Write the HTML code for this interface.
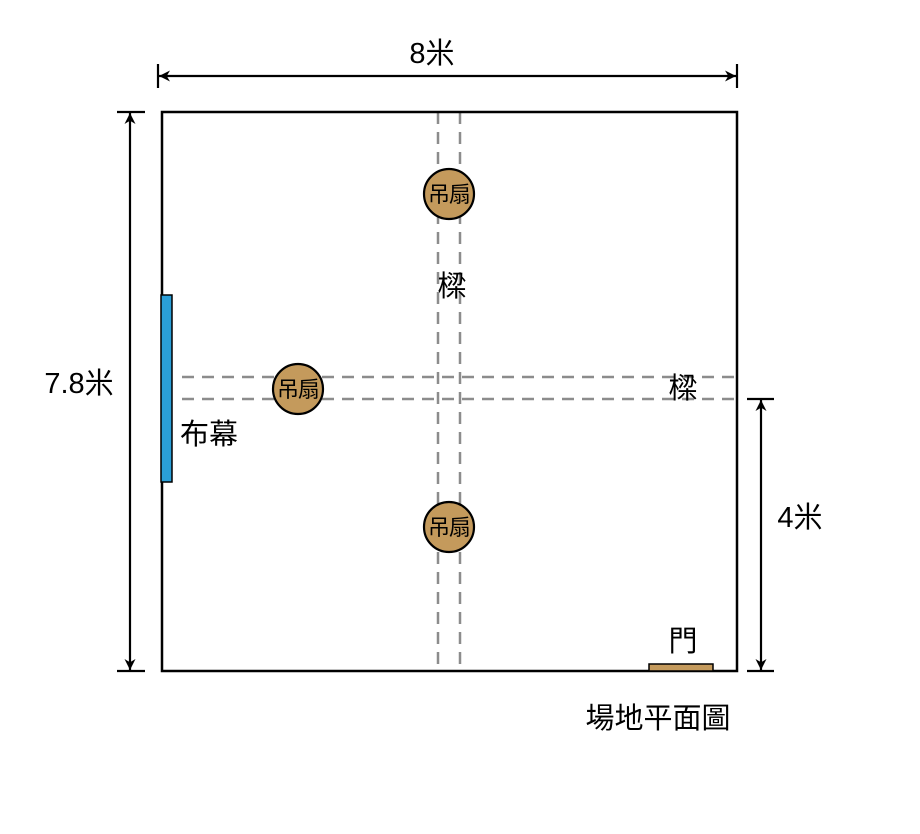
<!DOCTYPE html>
<html><head><meta charset="utf-8"><style>
html,body{margin:0;padding:0;background:#fff;}
text{font-family:"Liberation Sans","Noto Sans CJK TC",sans-serif;fill:#000;}
</style></head><body>
<svg width="920" height="829" viewBox="0 0 920 829" xmlns="http://www.w3.org/2000/svg">
<defs>
<marker id="a" viewBox="0 0 10 10" refX="10" refY="5" markerWidth="11" markerHeight="11" markerUnits="userSpaceOnUse" orient="auto-start-reverse">
<path d="M0,0 L10,5 L0,10 L3,5 z" fill="#000"/>
</marker>
</defs>
<g stroke="#8c8c8c" stroke-width="2.5" stroke-dasharray="12,8" fill="none">
<line x1="438" y1="112" x2="438" y2="671"/>
<line x1="460" y1="112" x2="460" y2="671"/>
<line x1="182" y1="377" x2="737" y2="377"/>
<line x1="182" y1="399" x2="737" y2="399"/>
</g>
<rect x="162" y="112" width="575" height="559" fill="none" stroke="#000" stroke-width="2.5"/>
<rect x="161" y="295" width="11" height="187" fill="#2a9fd8" stroke="#000" stroke-width="1.5"/>
<rect x="649" y="664" width="64" height="7" fill="#c49a5c" stroke="#000" stroke-width="1.5"/>
<g fill="#c49a5c" stroke="#000" stroke-width="2.2">
<circle cx="449" cy="194" r="25"/>
<circle cx="298" cy="389" r="25"/>
<circle cx="449" cy="527" r="25"/>
</g>
<g font-size="22" text-anchor="middle" letter-spacing="-1">
<text x="449" y="202">吊扇</text>
<text x="298" y="397">吊扇</text>
<text x="449" y="535">吊扇</text>
</g>
<g stroke="#000" stroke-width="2.2">
<line x1="158" y1="64" x2="158" y2="88"/>
<line x1="737" y1="64" x2="737" y2="88"/>
<line x1="159" y1="76" x2="736" y2="76" marker-start="url(#a)" marker-end="url(#a)"/>
<line x1="117" y1="112" x2="145" y2="112"/>
<line x1="117" y1="671" x2="145" y2="671"/>
<line x1="130" y1="113" x2="130" y2="670" marker-start="url(#a)" marker-end="url(#a)"/>
<line x1="747" y1="399" x2="774" y2="399"/>
<line x1="747" y1="671" x2="774" y2="671"/>
<line x1="761" y1="400" x2="761" y2="670" marker-start="url(#a)" marker-end="url(#a)"/>
</g>
<g font-size="29">
<text x="432" y="63" text-anchor="middle">8米</text>
<text x="79" y="393" text-anchor="middle">7.8米</text>
<text x="180" y="444">布幕</text>
<text x="800" y="527" text-anchor="middle">4米</text>
<text x="452" y="296" text-anchor="middle">樑</text>
<text x="683" y="398" text-anchor="middle">樑</text>
<text x="683" y="651" text-anchor="middle">門</text>
<text x="658" y="728" text-anchor="middle">場地平面圖</text>
</g>
</svg>
</body></html>
